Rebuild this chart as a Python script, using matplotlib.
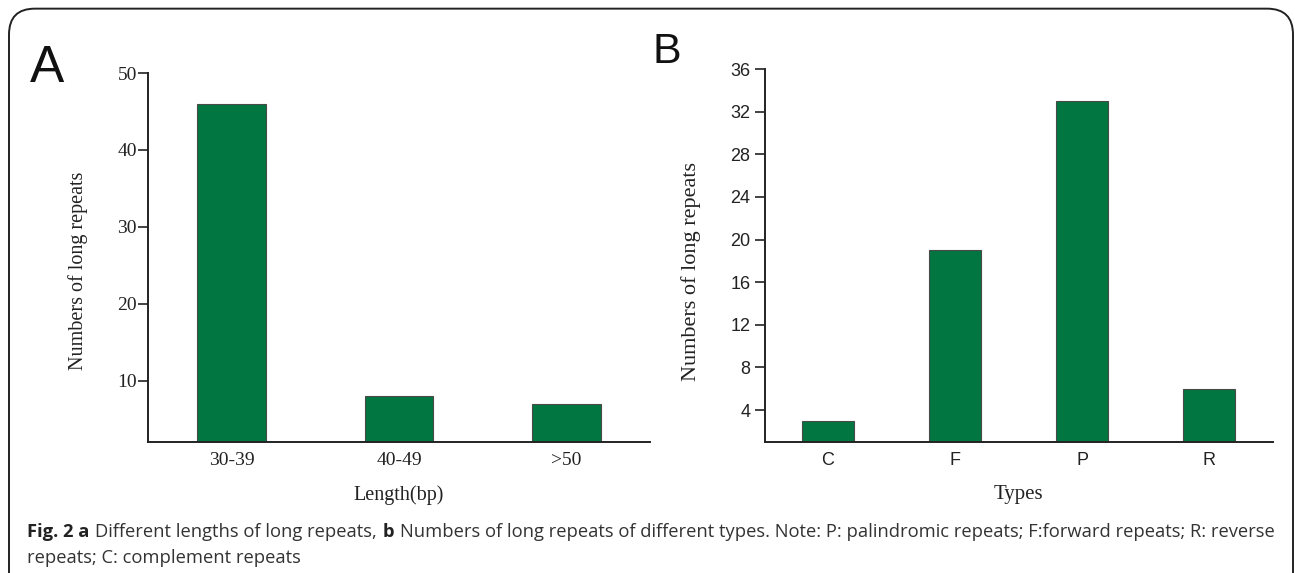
import matplotlib
matplotlib.use("Agg")
import matplotlib.pyplot as plt
from matplotlib.patches import FancyBboxPatch

# Data
length_cats = ["30-39", "40-49", ">50"]
length_counts = [46, 8, 7]
type_cats = ["C", "F", "P", "R"]
type_counts = [3, 19, 33, 6]
a_yticks = [10, 20, 30, 40, 50]
b_yticks = [4, 8, 12, 16, 20, 24, 28, 32, 36]

BAR = "#017640"
EDGE = "#4a4a4a"
SERIF = ["Liberation Serif", "DejaVu Serif"]
SANS = ["Liberation Sans", "DejaVu Sans"]
CAP = ["Open Sans", "DejaVu Sans"]

fig = plt.figure(figsize=(12.95, 5.73), dpi=100)

# rounded border
box = FancyBboxPatch((9/1295, -0.05), (1293-9)/1295, (573+30-10)/573,
                     boxstyle="round,pad=0,rounding_size=0.02",
                     transform=fig.transFigure, fill=False, ec="#222222", lw=1.4,
                     mutation_aspect=1295/573)
fig.patches.append(box)

def style_ax(ax, ypad):
    for s in ["top", "right"]:
        ax.spines[s].set_visible(False)
    for s in ["left", "bottom"]:
        ax.spines[s].set_linewidth(1.4)
        ax.spines[s].set_color("#222222")
    ax.tick_params(axis="y", direction="out", length=7, width=1.2, color="#222222", pad=ypad)
    ax.tick_params(axis="x", length=0, pad=7.5)

# Panel A
axA = fig.add_axes([148/1295, 1-442/573, (650-148)/1295, (442-73)/573])
xa = range(len(length_cats))
axA.bar(xa, length_counts, width=0.41, color=BAR, edgecolor=EDGE, linewidth=0.8)
axA.set_xlim(-0.5, 2.5)
axA.set_ylim(2, 50)
axA.set_yticks(a_yticks)
axA.set_xticks(list(xa))
axA.set_xticklabels(length_cats, family=SERIF, fontsize=14, color="#222222")
axA.set_yticklabels([str(v) for v in a_yticks], family=SERIF, fontsize=14, color="#222222")
style_ax(axA, 1)
axA.set_xlabel("Length(bp)", family=SERIF, fontsize=14.5, color="#222222", labelpad=11.5)
axA.set_ylabel("Numbers of long repeats", family=SERIF, fontsize=14.5, color="#222222")
axA.yaxis.set_label_coords(-0.119, 0.465)

# Panel B
axB = fig.add_axes([764.5/1295, 1-442/573, (1273-764.5)/1295, (442-69)/573])
xb = range(len(type_cats))
axB.bar(xb, type_counts, width=0.41, color=BAR, edgecolor=EDGE, linewidth=0.8)
axB.set_xlim(-0.5, 3.5)
axB.set_ylim(1, 36)
axB.set_yticks(b_yticks)
axB.set_xticks(list(xb))
axB.set_xticklabels(type_cats, family=SANS, fontsize=13, color="#222222")
axB.set_yticklabels([str(v) for v in b_yticks], family=SANS, fontsize=13, color="#222222")
style_ax(axB, 3)
axB.set_xlabel("Types", family=SERIF, fontsize=15, color="#222222", labelpad=11.5)
axB.set_ylabel("Numbers of long repeats", family=SERIF, fontsize=16, color="#222222")
axB.yaxis.set_label_coords(-0.1257, 0.457)

# Panel letters
fig.text(30/1295, 1-82/573, "A", family=SANS, fontsize=37, color="#111111", va="baseline")
fig.text(653/1295, 1-63/573, "B", family=SANS, fontsize=31, color="#111111", va="baseline")

# Caption
fs = 13.2
gap = 0.0045
y1 = 1-537/573
col = "#333333"
t = fig.text(27/1295, y1, "Fig. 2 a", family=CAP, fontweight="bold",
             fontsize=fs, color="#222222", va="baseline")
fig.canvas.draw()
r = fig.canvas.get_renderer()
bb = t.get_window_extent(r)
t2 = fig.text(bb.x1/1295 + gap, y1, "Different lengths of long repeats,", family=CAP,
              fontsize=fs, color=col, va="baseline")
bb2 = t2.get_window_extent(r)
t3 = fig.text(bb2.x1/1295 + gap, y1, "b", family=CAP, fontweight="bold",
              fontsize=fs, color="#222222", va="baseline")
bb3 = t3.get_window_extent(r)
fig.text(bb3.x1/1295 + gap, y1,
         "Numbers of long repeats of different types. Note: P: palindromic repeats; F:forward repeats; R: reverse",
         family=CAP, fontsize=fs, color=col, va="baseline")
fig.text(27/1295, 1-563/573, "repeats; C: complement repeats", family=CAP,
         fontsize=fs, color=col, va="baseline")

fig.savefig("out.png", dpi=100)
